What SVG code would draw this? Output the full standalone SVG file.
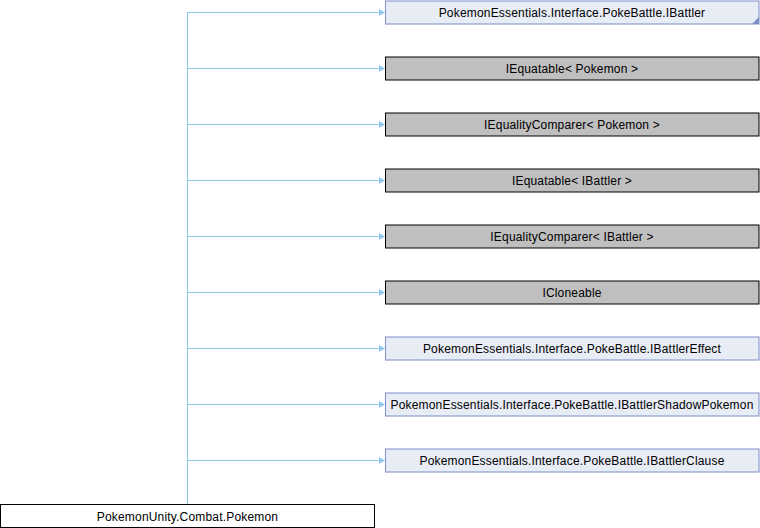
<svg xmlns="http://www.w3.org/2000/svg" width="760" height="528" viewBox="0 0 760 528">
<defs>
<style>
text{font-family:"Liberation Sans",Arial,sans-serif;font-size:12px;letter-spacing:0.18px;text-anchor:middle;fill:#000}
.iface{fill:#e8ecf5;stroke:#7b8ec8;stroke-width:1}
.ext{fill:#bfbfbf;stroke:#000;stroke-width:1}
.main{fill:#fff;stroke:#000;stroke-width:1}
.edge{fill:none;stroke:#8fc8eb;stroke-width:1}
</style>
<marker id="ah" markerWidth="7" markerHeight="7" refX="6" refY="3.5" orient="auto" markerUnits="userSpaceOnUse">
<path d="M0,0 L6,3.5 L0,7 Z" fill="#8fc8eb" stroke="#8fc8eb" stroke-width="0.5"/>
</marker>
</defs>
<rect width="760" height="528" fill="#fff"/>
<g id="connectors">
<path class="edge" d="M187.5,504.5 V12.5"/>
<path class="edge" d="M187.5,12.5 H384.5" marker-end="url(#ah)"/>
<path class="edge" d="M187.5,68.5 H384.5" marker-end="url(#ah)"/>
<path class="edge" d="M187.5,124.5 H384.5" marker-end="url(#ah)"/>
<path class="edge" d="M187.5,180.5 H384.5" marker-end="url(#ah)"/>
<path class="edge" d="M187.5,236.5 H384.5" marker-end="url(#ah)"/>
<path class="edge" d="M187.5,292.5 H384.5" marker-end="url(#ah)"/>
<path class="edge" d="M187.5,348.5 H384.5" marker-end="url(#ah)"/>
<path class="edge" d="M187.5,404.5 H384.5" marker-end="url(#ah)"/>
<path class="edge" d="M187.5,460.5 H384.5" marker-end="url(#ah)"/>
</g>
<g id="node-ibattler">
<rect class="iface" x="385.5" y="1" width="373.5" height="23"/>
<path d="M759,17 L759,24 L752,24 Z" fill="#7b8ec8"/>
<text x="572" y="17">PokemonEssentials.Interface.PokeBattle.IBattler</text>
</g>
<g id="node-iequatable-pokemon">
<rect class="ext" x="385.5" y="57" width="373.5" height="23"/>
<text x="572" y="73">IEquatable&lt; Pokemon &gt;</text>
</g>
<g id="node-iequalitycomparer-pokemon">
<rect class="ext" x="385.5" y="113" width="373.5" height="23"/>
<text x="572" y="129">IEqualityComparer&lt; Pokemon &gt;</text>
</g>
<g id="node-iequatable-ibattler">
<rect class="ext" x="385.5" y="169" width="373.5" height="23"/>
<text x="572" y="185">IEquatable&lt; IBattler &gt;</text>
</g>
<g id="node-iequalitycomparer-ibattler">
<rect class="ext" x="385.5" y="225" width="373.5" height="23"/>
<text x="572" y="241">IEqualityComparer&lt; IBattler &gt;</text>
</g>
<g id="node-icloneable">
<rect class="ext" x="385.5" y="281" width="373.5" height="23"/>
<text x="572" y="297">ICloneable</text>
</g>
<g id="node-ibattlereffect">
<rect class="iface" x="385.5" y="337" width="373.5" height="23"/>
<text x="572" y="353">PokemonEssentials.Interface.PokeBattle.IBattlerEffect</text>
</g>
<g id="node-ibattlershadowpokemon">
<rect class="iface" x="385.5" y="393" width="373.5" height="23"/>
<text x="572" y="409">PokemonEssentials.Interface.PokeBattle.IBattlerShadowPokemon</text>
</g>
<g id="node-ibattlerclause">
<rect class="iface" x="385.5" y="449" width="373.5" height="23"/>
<text x="572" y="465">PokemonEssentials.Interface.PokeBattle.IBattlerClause</text>
</g>
<g id="node-pokemon">
<rect class="main" x="0.5" y="504.5" width="374" height="23"/>
<text x="187.5" y="520.5">PokemonUnity.Combat.Pokemon</text>
</g>
</svg>
